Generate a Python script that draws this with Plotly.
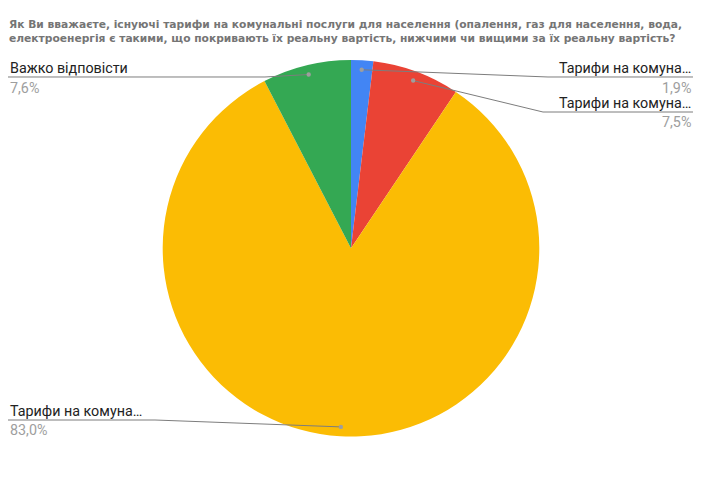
import math
import plotly.graph_objects as go

# data
labels = ["Тарифи на комуна…", "Тарифи на комуна…", "Тарифи на комуна…", "Важко відповісти"]
values = [1.9, 7.5, 83.0, 7.6]
colors = ["#4285F4", "#EA4335", "#FBBC04", "#34A853"]
title_lines = [
    "Як Ви вважаєте, існуючі тарифи на комунальні послуги для населення (опалення, газ для населення, вода,",
    "електроенергія є такими, що покривають їх реальну вартість, нижчими чи вищими за їх реальну вартість?",
]

# page has an 8px body margin, so the figure is drawn a bit smaller
OFF = 8
W, H = 719 - OFF, 483 - OFF
CX, CY, R = 351, 248.3, 188.3

def px(x):
    return (x - OFF) / W

def py(y):
    return 1 - (y - OFF) / H

# label layout (screen pixels): side, text y, pct y, underline y, underline x-range
label_pos = [
    dict(side="right", ty=68, py_=87.5, uy=77, ux=(548, 693)),
    dict(side="right", ty=102.5, py_=122, uy=112, ux=(543, 693)),
    dict(side="left", ty=411, py_=430, uy=420, ux=(8, 155)),
    dict(side="left", ty=68, py_=87.5, uy=77, ux=(8, 265)),
]

fig = go.Figure()
fig.add_trace(go.Pie(
    labels=[f"{l} ({i})" for i, l in enumerate(labels)],
    values=values,
    marker=dict(colors=colors, line=dict(width=0)),
    sort=False,
    direction="clockwise",
    rotation=0,
    textinfo="none",
    hoverinfo="label+percent",
    showlegend=False,
    domain=dict(x=[px(CX - R), px(CX + R)], y=[py(CY + R), py(CY - R)]),
))

total = sum(values)
cum = 0
shapes = []
annotations = []
for lab, val, pos in zip(labels, values, label_pos):
    theta = (cum + val / 2) / total * 2 * math.pi
    cum += val
    dx = CX + 0.95 * R * math.sin(theta)
    dy = CY - 0.95 * R * math.cos(theta)
    if pos["side"] == "right":
        pts = [(dx, dy), (pos["ux"][0], pos["uy"]), (pos["ux"][1], pos["uy"])]
        ax, xa = pos["ux"][1], "right"
    else:
        pts = [(dx, dy), (pos["ux"][1], pos["uy"]), (pos["ux"][0], pos["uy"])]
        ax, xa = pos["ux"][0], "left"
    path = "M " + " L ".join(f"{px(x):.5f},{py(y):.5f}" for x, y in pts)
    shapes.append(dict(type="path", path=path, xref="paper", yref="paper",
                       line=dict(color="#7d7d7d", width=1)))
    shapes.append(dict(type="circle", xref="paper", yref="paper",
                       x0=px(dx - 2.2), x1=px(dx + 2.2), y0=py(dy + 2.2), y1=py(dy - 2.2),
                       fillcolor="#9e9e9e", line=dict(width=0)))
    annotations.append(dict(text=lab, x=px(ax), y=py(pos["ty"]), xref="paper", yref="paper",
                            xanchor=xa, yanchor="middle", showarrow=False,
                            font=dict(family="Roboto", size=14.3, color="#222222")))
    pct = f"{val:.1f}%".replace(".", ",")
    annotations.append(dict(text=pct, x=px(ax), y=py(pos["py_"]), xref="paper", yref="paper",
                            xanchor=xa, yanchor="middle", showarrow=False,
                            font=dict(family="Roboto", size=14.3, color="#9e9e9e")))

# title: two lines in one text block
annotations.append(dict(text="<b>" + "<br>".join(title_lines) + "</b>", x=px(8), y=py(31.5),
                        xref="paper", yref="paper", xanchor="left", yanchor="middle",
                        align="left", showarrow=False, borderpad=0,
                        font=dict(family="DejaVu Sans", size=10.7, color="#757575")))

fig.update_layout(
    width=W, height=H,
    margin=dict(l=0, r=0, t=0, b=0),
    paper_bgcolor="white",
    plot_bgcolor="white",
    shapes=shapes,
    annotations=annotations,
)

fig.write_html("out.html")
